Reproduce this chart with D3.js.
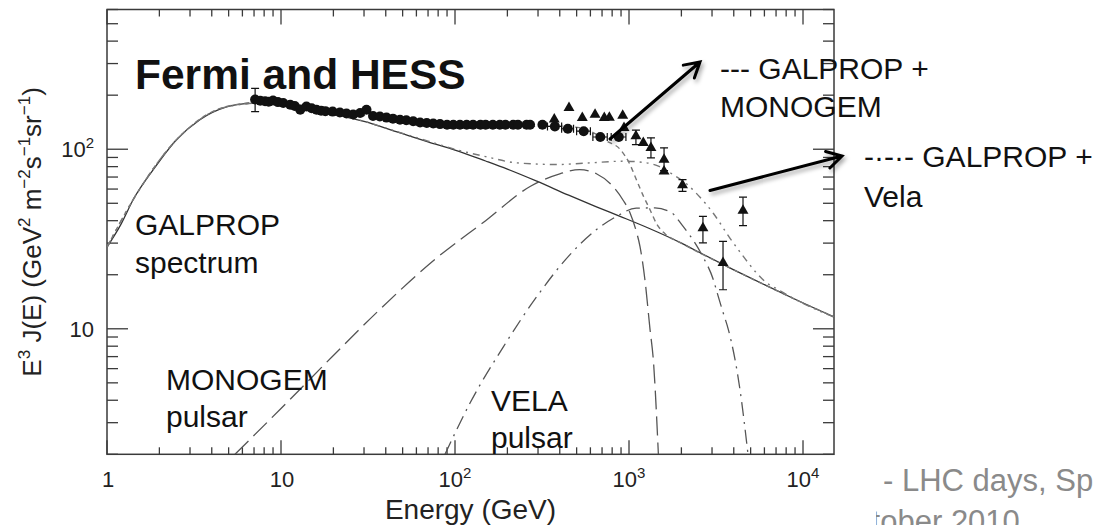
<!DOCTYPE html>
<html>
<head>
<meta charset="utf-8">
<script src="https://cdn.jsdelivr.net/npm/d3@7"></script>
<style>
  html, body { margin: 0; padding: 0; background: #fff; }
  svg { display: block; font-family: Arial, "Liberation Sans", sans-serif; }
</style>
</head>
<body>
<div id="chart"></div>
<script>
// GALPROP conventional model (solid)
const galpropE = [1, 1.2, 1.416, 1.845, 2.51, 3.42, 4.87, 6.63, 8, 10, 14, 20, 30, 50, 70, 100, 150, 200, 295, 450, 650, 888, 1300, 2000, 2663, 4000, 6000, 9000, 15500];
const galpropV = [28.5, 38, 52.5, 77, 113, 146, 172, 180, 181, 178, 168, 157, 143, 122, 110, 99, 86, 77.5, 66.4, 55.5, 47.8, 42.3, 36.3, 30, 26, 21.3, 17.6, 14.6, 11.5];

// Monogem pulsar (long dash)
const monogemE = [5.44, 10, 20, 36, 78.5, 150, 270, 400, 520, 650, 809, 925, 1014, 1100, 1156, 1235, 1321, 1380, 1475];
const monogemV = [2.0, 3.6, 7.1, 12.5, 24.8, 40, 62, 73, 77, 73, 62, 52, 44.2, 35, 28.8, 18.7, 9.9, 6.7, 2.0];

// Vela pulsar (dash-dot)
const velaE = [87.6, 122, 190, 295, 458, 651, 849, 1100, 1410, 1760, 2010, 2617, 3050, 3260, 3484, 3724, 4345, 4830];
const velaV = [2.0, 3.86, 7.96, 15.1, 25.9, 35.7, 42.3, 47, 47.1, 44.2, 38, 25.9, 18.8, 15.1, 12.2, 9.9, 4.57, 2.0];

// GALPROP + Monogem (short dash)
const galMonE = [1, 1.416, 2.51, 4.87, 8, 10, 20, 36, 78.5, 150, 270, 400, 520, 650, 745, 888, 1014, 1100, 1208, 1321, 1450, 1600, 2000, 4000, 9000, 15500];
const galMonV = [28.5, 52.5, 113, 173, 183, 181.6, 164, 150, 133, 132, 134, 134, 132, 121, 111, 100, 82, 68, 55, 46, 38, 34, 30, 21.3, 14.6, 11.5];

// GALPROP + Vela (dash-dot-dot)
const galVelE = [1, 1.416, 2.51, 4.87, 8, 10, 20, 30, 50, 70, 100, 150, 226, 384, 600, 927, 1264, 1500, 1800, 2146, 2560, 3050, 3800, 4540, 5420, 6180, 7000, 9000, 15500];
const galVelV = [28.5, 52.5, 113, 172, 181, 178, 157, 143, 122.5, 111, 100, 91, 84, 82.2, 84, 85.8, 84, 80, 72, 64, 54, 44, 32, 25.3, 20.4, 18, 16.8, 14.6, 11.5];

// Fermi LAT electrons (circles)
const fermiE = [7.1, 7.6, 8.1, 8.5, 9.0, 9.6, 10.3, 11.3, 12.0, 12.9, 14.0, 15.0, 16.0, 17.0, 18.0, 19.8, 21.8, 23.8, 26.0, 28.5, 31.0, 33.8, 37.0, 40.4, 44.0, 48.3, 52.5, 57.5, 63.0, 68.8, 75.0, 82.0, 90.0, 97.8, 106.8, 116.7, 127, 140, 150, 165, 181, 195, 216, 230, 258, 270, 318, 375, 445, 549, 684, 874];
const fermiV = [189, 186, 185, 184, 187, 183, 181, 177, 174, 166, 173, 169, 166, 164, 163, 162, 160, 158, 156, 159, 166, 153, 152, 150, 148, 146, 145, 143, 141, 140, 139, 138, 137, 137, 137, 137, 137, 137, 137, 137, 137, 137, 137, 137, 137, 137, 137, 134, 130, 126, 117, 117];
const fermiErrLo = [162];
const fermiErrHi = [218];
const fermiXLo = { 375: 340, 445: 410, 549: 500, 684: 620, 874: 790 };
const fermiXHi = { 375: 410, 445: 480, 549: 600, 684: 750, 874: 960 };

// HESS electrons (triangles)
const hessE = [372, 452, 539, 638, 721, 771, 920, 936, 1096, 1208, 1337, 1590, 1590, 2030, 2660, 3470, 4520];
const hessV = [146.5, 170, 149.7, 156, 149.7, 150, 154, 131.6, 118.2, 108.6, 101.8, 87.6, 75.4, 63.1, 36.4, 23.3, 45.5];
const hessLo = [null, null, null, null, null, null, null, null, 106, null, 89.5, 76, null, 58.3, 30.1, 16.5, 37.5];
const hessHi = [null, null, null, null, null, null, null, null, 127.7, null, 115.8, 101.8, null, 67.8, 42.3, 30.7, 54.1];

const xTicks = [1, 10, 100, 1000, 10000];
const xTickLabels = [["1", ""], ["10", ""], ["10", "2"], ["10", "3"], ["10", "4"]];
const yTicks = [10, 100];
const yTickLabels = [["10", ""], ["10", "2"]];

const width = 1100, height = 525;
const pL = 107, pR = 834, pT = 9.5, pB = 454.3;
const ink = "#222";

const svg = d3.select("#chart").append("svg")
    .attr("width", width)
    .attr("height", height);

const defs = svg.append("defs");
defs.append("clipPath").attr("id", "plotClip")
    .append("rect").attr("x", pL).attr("y", pT).attr("width", pR - pL).attr("height", pB - pT);
defs.append("clipPath").attr("id", "footClip")
    .append("rect").attr("x", 876).attr("y", 0).attr("width", 300).attr("height", height);
const shadow = defs.append("filter").attr("id", "shadow")
    .attr("x", "-20%").attr("y", "-20%").attr("width", "140%").attr("height", "140%");
shadow.append("feDropShadow").attr("dx", 2).attr("dy", 3).attr("stdDeviation", 2)
    .attr("flood-color", "#000").attr("flood-opacity", 0.35);

// slide footer text behind the chart
const foot = svg.append("g").attr("fill", "#8a8a8a").attr("font-size", 31);
foot.append("text").attr("x", 883).attr("y", 491).text("- LHC days, Sp");
foot.append("text").attr("x", 832).attr("y", 532).attr("clip-path", "url(#footClip)").text("October 2010");

const x = d3.scaleLog().domain([1, 15070]).range([pL, pR]);
const y = d3.scaleLog().domain([2, 600]).range([pB, pT]);

// frame
svg.append("rect")
    .attr("x", pL).attr("y", pT)
    .attr("width", pR - pL).attr("height", pB - pT)
    .attr("fill", "none").attr("stroke", "#3a3a3a").attr("stroke-width", 1.5);

// ticks
const xMinor = [];
for (let d = 1; d <= 10000; d *= 10)
    for (let k = 2; k <= 9; k++) if (d * k <= 15070) xMinor.push(d * k);
const yMinor = [];
for (let d = 1; d <= 100; d *= 10)
    for (let k = 2; k <= 9; k++) if (d * k >= 2 && d * k <= 600) yMinor.push(d * k);

const tickG = svg.append("g").attr("stroke", "#3a3a3a").attr("stroke-width", 1.3);
tickG.selectAll(".xb").data(xTicks.concat(xMinor)).join("line").attr("class", "xb")
    .attr("x1", d => x(d)).attr("x2", d => x(d))
    .attr("y1", pB).attr("y2", d => pB - (xTicks.includes(d) ? 14 : 7));
tickG.selectAll(".xt").data(xTicks.concat(xMinor)).join("line").attr("class", "xt")
    .attr("x1", d => x(d)).attr("x2", d => x(d))
    .attr("y1", pT).attr("y2", d => pT + (xTicks.includes(d) ? 15 : 7));
tickG.selectAll(".yl").data(yTicks.concat(yMinor)).join("line").attr("class", "yl")
    .attr("y1", d => y(d)).attr("y2", d => y(d))
    .attr("x1", pL).attr("x2", d => pL + (yTicks.includes(d) ? 21 : 11));
tickG.selectAll(".yr").data(yTicks.concat(yMinor)).join("line").attr("class", "yr")
    .attr("y1", d => y(d)).attr("y2", d => y(d))
    .attr("x1", pR).attr("x2", d => pR - (yTicks.includes(d) ? 21 : 11));

// tick labels
const xl = svg.append("g").attr("fill", ink).attr("font-size", 22).attr("text-anchor", "middle");
xTicks.forEach((t, i) => {
    const tx = xl.append("text").attr("x", x(t) + (xTickLabels[i][1] ? 0 : 1)).attr("y", 487);
    tx.append("tspan").text(xTickLabels[i][0]);
    if (xTickLabels[i][1]) tx.append("tspan").attr("font-size", 15).attr("dy", -9).text(xTickLabels[i][1]);
});
const yl = svg.append("g").attr("fill", ink).attr("font-size", 22).attr("text-anchor", "end");
yTicks.forEach((t, i) => {
    const tx = yl.append("text").attr("x", 94).attr("y", y(t) + 8);
    tx.append("tspan").text(yTickLabels[i][0]);
    if (yTickLabels[i][1]) tx.append("tspan").attr("font-size", 15).attr("dy", -9).text(yTickLabels[i][1]);
});

// axis titles
svg.append("text").attr("x", (pL + pR) / 2).attr("y", 519)
    .attr("text-anchor", "middle").attr("font-size", 28).attr("fill", ink)
    .text("Energy (GeV)");

const yt = svg.append("text")
    .attr("transform", `translate(41,${(pT + pB) / 2}) rotate(-90)`)
    .attr("text-anchor", "middle").attr("font-size", 26).attr("fill", ink);
const ytParts = [["E", 0], ["3", 1], [" J(E) (GeV", 0], ["2", 1], [" m", 0], ["\u22122", 1], ["s", 0], ["\u22121", 1], ["sr", 0], ["\u22121", 1], [")", 0]];
let sup = false;
ytParts.forEach(([s, isSup]) => {
    const ts = yt.append("tspan").text(s);
    if (isSup && !sup) ts.attr("dy", -11).attr("font-size", 17);
    else if (isSup) ts.attr("font-size", 17);
    else if (!isSup && sup) ts.attr("dy", 11);
    sup = !!isSup;
});

// curves
const line = d3.line().x(d => x(d[0])).y(d => y(d[1])).curve(d3.curveMonotoneX);
const curves = svg.append("g").attr("clip-path", "url(#plotClip)").attr("fill", "none");
const series = [
    { e: galpropE, v: galpropV, dash: null, color: "#333", w: 1.3 },
    { e: monogemE, v: monogemV, dash: "19,7", color: "#555", w: 1.3 },
    { e: velaE, v: velaV, dash: "14,6,2,6", color: "#555", w: 1.3 },
    { e: galMonE, v: galMonV, dash: "5,4", color: "#777", w: 1.4 },
    { e: galVelE, v: galVelV, dash: "7,5,2,5,2,5", color: "#777", w: 1.4 }
];
series.forEach(s => {
    curves.append("path")
        .attr("d", line(s.e.map((e, i) => [e, s.v[i]])))
        .attr("stroke", s.color)
        .attr("stroke-width", s.w)
        .attr("stroke-dasharray", s.dash);
});

// data points
const pts = svg.append("g").attr("clip-path", "url(#plotClip)");
const errG = pts.append("g").attr("stroke", "#111").attr("stroke-width", 1.2);

fermiErrLo.forEach((lo, i) => {
    const cx = x(fermiE[i]);
    errG.append("line").attr("x1", cx).attr("x2", cx).attr("y1", y(lo)).attr("y2", y(fermiErrHi[i]));
    [lo, fermiErrHi[i]].forEach(v => errG.append("line")
        .attr("x1", cx - 4).attr("x2", cx + 4).attr("y1", y(v)).attr("y2", y(v)));
});
fermiE.forEach((e, i) => {
    if (fermiXLo[e] == null) return;
    const cy = y(fermiV[i]);
    errG.append("line").attr("x1", x(fermiXLo[e])).attr("x2", x(fermiXHi[e])).attr("y1", cy).attr("y2", cy);
    [fermiXLo[e], fermiXHi[e]].forEach(v => errG.append("line")
        .attr("x1", x(v)).attr("x2", x(v)).attr("y1", cy - 4).attr("y2", cy + 4));
});
hessE.forEach((e, i) => {
    if (hessLo[i] == null) return;
    const cx = x(e);
    errG.append("line").attr("x1", cx).attr("x2", cx).attr("y1", y(hessLo[i])).attr("y2", y(hessHi[i]));
    [hessLo[i], hessHi[i]].forEach(v => errG.append("line")
        .attr("x1", cx - 4).attr("x2", cx + 4).attr("y1", y(v)).attr("y2", y(v)));
});

pts.selectAll("circle").data(fermiE).join("circle")
    .attr("cx", d => x(d))
    .attr("cy", (d, i) => y(fermiV[i]))
    .attr("r", 5)
    .attr("fill", "#111");

const tri = d3.symbol().type(d3.symbolTriangle).size(52);
pts.selectAll(".tri").data(hessE).join("path")
    .attr("class", "tri")
    .attr("transform", (d, i) => `translate(${x(d)},${y(hessV[i])})`)
    .attr("d", tri)
    .attr("fill", "#111");

// text annotations
const ann = svg.append("g").attr("fill", "#111").attr("font-size", 30);
ann.append("text").attr("x", 135).attr("y", 89).attr("font-size", 42.5).attr("font-weight", "bold").text("Fermi and HESS");
ann.append("text").attr("x", 135).attr("y", 235).text("GALPROP");
ann.append("text").attr("x", 135).attr("y", 273).text("spectrum");
ann.append("text").attr("x", 166).attr("y", 390).text("MONOGEM");
ann.append("text").attr("x", 166).attr("y", 427).text("pulsar");
ann.append("text").attr("x", 491).attr("y", 411).text("VELA");
ann.append("text").attr("x", 491).attr("y", 448).text("pulsar");
ann.append("text").attr("x", 720).attr("y", 79).text("--- GALPROP +");
ann.append("text").attr("x", 720).attr("y", 117).text("MONOGEM");
ann.append("text").attr("x", 864).attr("y", 167).text("-\u00b7-\u00b7- GALPROP +");
ann.append("text").attr("x", 864).attr("y", 207).text("Vela");

// arrows
const arrows = [[610, 139, 700, 62], [710, 190.5, 842, 156]];
const arrowG = svg.append("g").attr("stroke", "#000").attr("stroke-width", 3)
    .attr("fill", "none").attr("stroke-linecap", "round").attr("filter", "url(#shadow)");
arrows.forEach(([x1, y1, x2, y2]) => {
    const a = Math.atan2(y2 - y1, x2 - x1);
    const h = 17, s = Math.PI / 6;
    arrowG.append("path").attr("d",
        `M${x1},${y1}L${x2},${y2}` +
        `M${x2 - h * Math.cos(a - s)},${y2 - h * Math.sin(a - s)}L${x2},${y2}` +
        `L${x2 - h * Math.cos(a + s)},${y2 - h * Math.sin(a + s)}`);
});
</script>
</body>
</html>
